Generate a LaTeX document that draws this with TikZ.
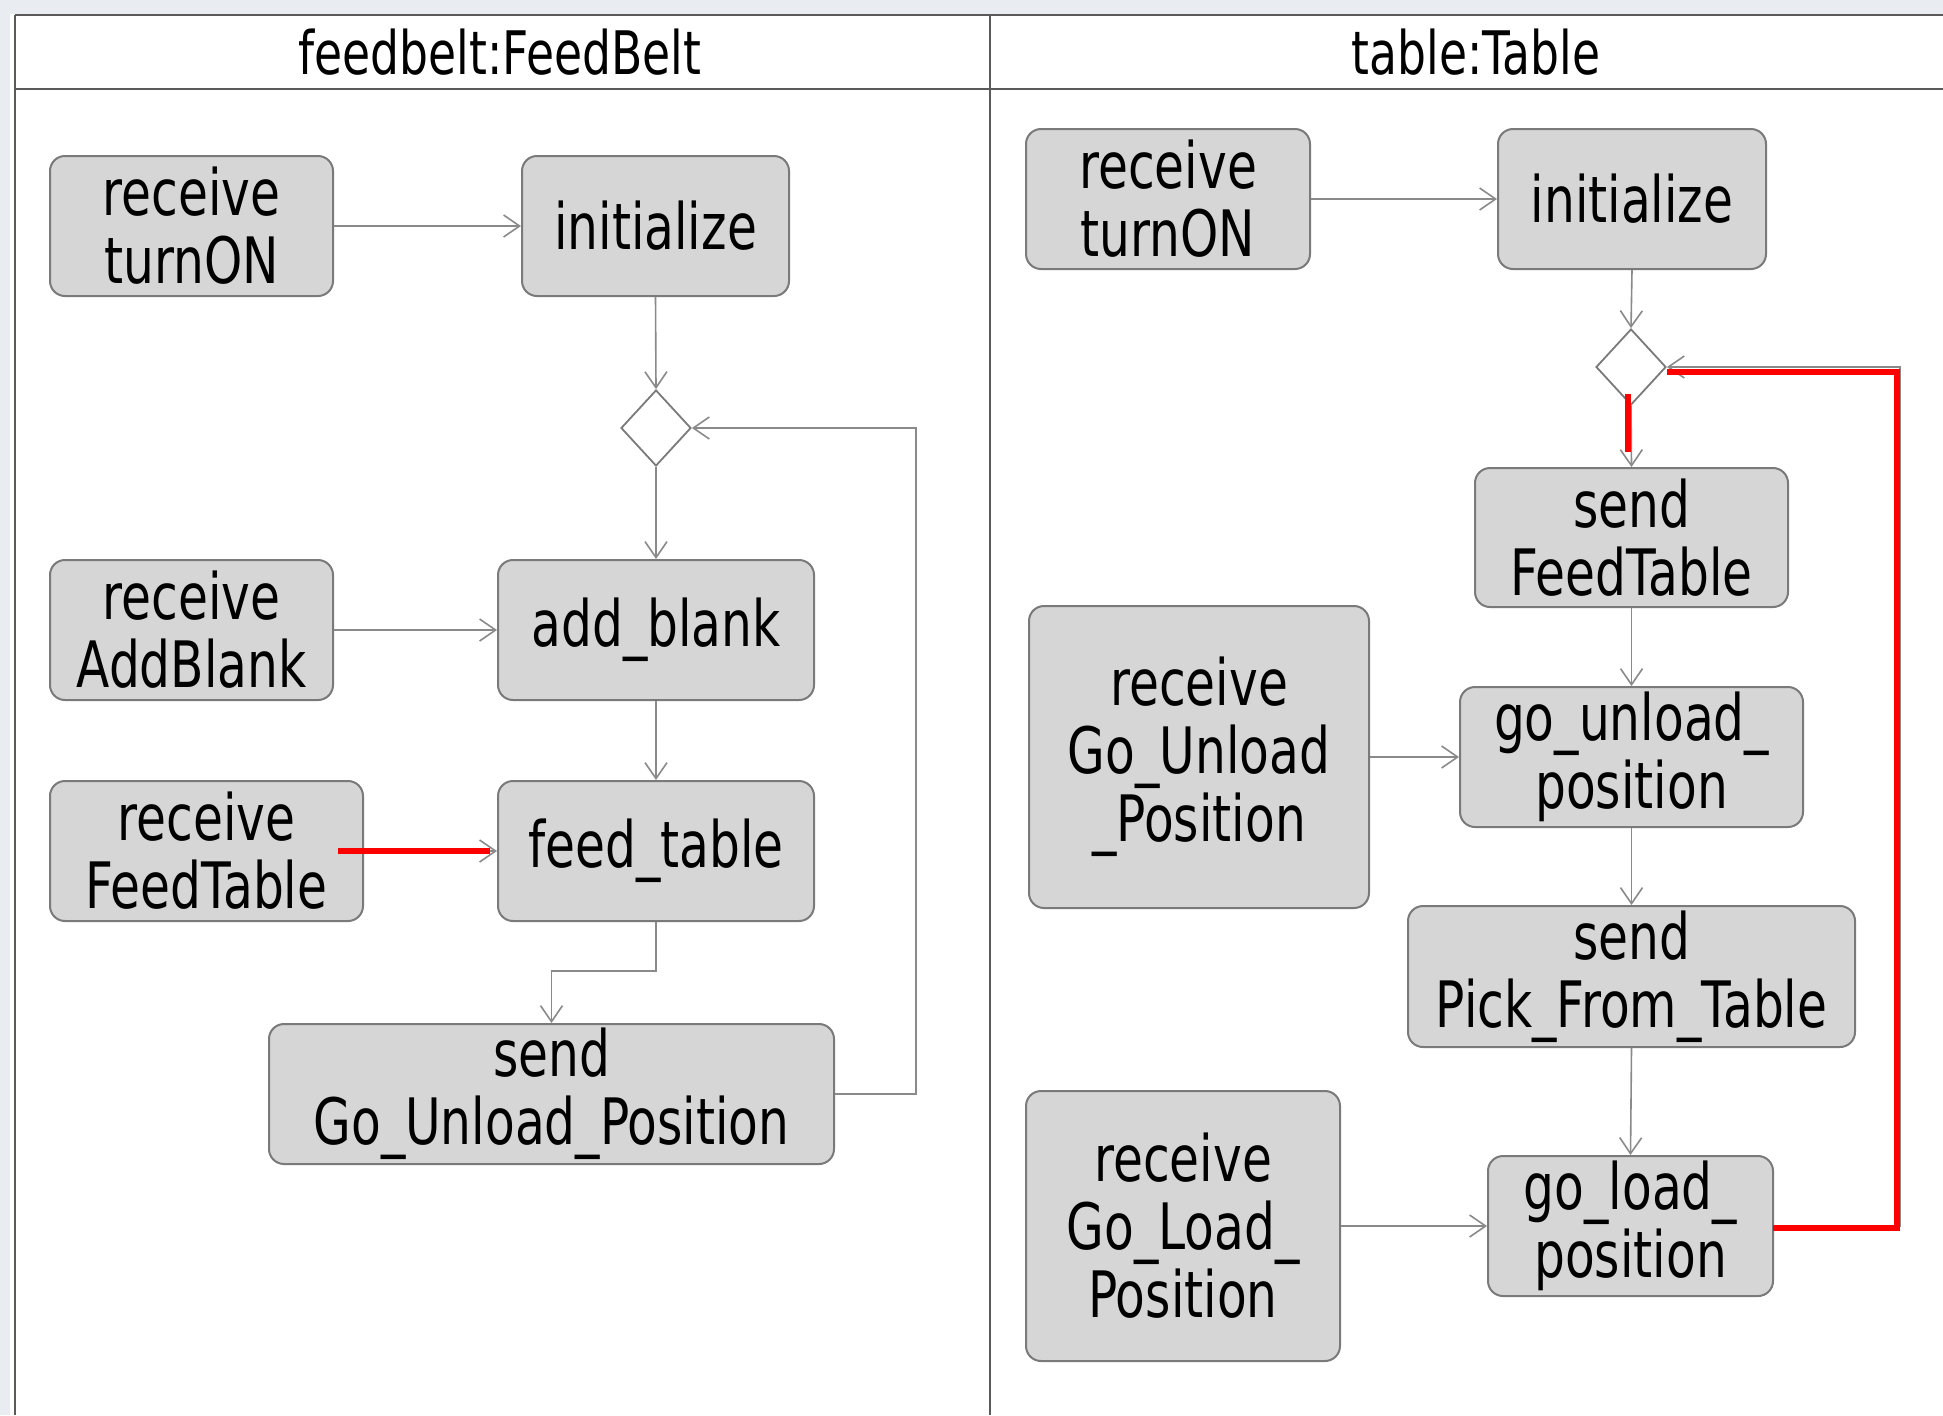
\documentclass[tikz,border=0pt]{standalone}
\usepackage{fontspec}
\setmainfont{DejaVu Sans}[FakeStretch=0.76]
\usetikzlibrary{arrows.meta,shapes.geometric}
\definecolor{boxfill}{HTML}{D6D6D6}
\definecolor{boxline}{HTML}{7A7A7A}
\definecolor{conn}{HTML}{8A8A8A}
\definecolor{lane}{HTML}{5A5A5A}
\definecolor{strip}{HTML}{E9ECF0}
\definecolor{hl}{HTML}{FF0000}
\begin{document}
\begin{tikzpicture}[x=0.5pt,y=-0.5pt,
  act/.style={draw=boxline, line width=1pt, fill=boxfill, rounded corners=7.5pt,
    align=center, inner sep=0pt, font=\fontsize{32pt}{34pt}\selectfont},
  dec/.style={draw=boxline, line width=0.9pt, fill=white, diamond, inner sep=0pt,
    minimum width=35pt, minimum height=38pt},
  flow/.style={draw=conn, line width=0.8pt, -{Straight Barb[length=8pt,width=11pt]}},
  hilite/.style={draw=hl, line width=2.6pt},
  lanehead/.style={font=\fontsize{30pt}{32pt}\selectfont, inner sep=0pt}
]
\useasboundingbox (0,0) rectangle (1943,1415);
\fill[white] (0,0) rectangle (1943,1415);
\fill[strip] (0,0) rectangle (1943,14);
\fill[strip] (0,0) rectangle (10,1415);
% swimlanes
\draw[lane, line width=1.3pt] (15,15) -- (1943,15);
\draw[lane, line width=1.3pt] (15,89) -- (1943,89);
\draw[lane, line width=0.8pt] (15,15) -- (15,1415);
\draw[lane, line width=0.8pt] (990,15) -- (990,1415);
\node[lanehead] (h1) at (500,52) {feedbelt:FeedBelt};
\node[lanehead] (h2) at (1476,52) {table:Table};

% left lane
\node[act, minimum width=141.5pt, minimum height=70pt] (rt1) at (191.5,226) {receive\\turnON};
\node[act, minimum width=133.5pt, minimum height=70pt] (init1) at (655.5,226) {initialize};
\node[dec] (dia1) at (656,428) {};
\node[act, minimum width=141.5pt, minimum height=70pt] (rab) at (191.5,630) {receive\\AddBlank};
\node[act, minimum width=158pt, minimum height=70pt] (addb) at (656,630) {add\_blank};
\node[act, minimum width=156.5pt, minimum height=70pt] (rft) at (206.5,851) {receive\\FeedTable};
\node[act, minimum width=158pt, minimum height=70pt] (feedt) at (656,851) {feed\_table};
\node[act, minimum width=282.5pt, minimum height=70pt] (sgu) at (551.5,1094) {send\\Go\_Unload\_Position};
\coordinate (loop1) at (916,1094);

\draw[flow] (rt1.east) -- (init1.west);
\draw[flow] (init1.south) -- (dia1.north);
\draw[flow] (dia1.south) -- (addb.north);
\draw[flow] (rab.east) -- (addb.west);
\draw[flow] (addb.south) -- (feedt.north);
\draw[flow] (rft.east) -- (feedt.west);
\draw[flow] (feedt.south) -- ++(0,49) -| (sgu.north);
\draw[flow] (sgu.east) -- (loop1) |- (dia1.east);
\draw[hilite] (338,851) -- (490,851);

% right lane
\node[act, minimum width=142pt, minimum height=70pt] (rt2) at (1168,199) {receive\\turnON};
\node[act, minimum width=134pt, minimum height=70pt] (init2) at (1632,199) {initialize};
\node[dec] (dia2) at (1631,367) {};
\node[act, minimum width=156.5pt, minimum height=69.5pt] (sft) at (1631.5,537.5) {send\\FeedTable};
\node[act, minimum width=170pt, minimum height=151pt] (rgu) at (1199,757) {receive\\Go\_Unload\\\_Position};
\node[act, minimum width=171.5pt, minimum height=70pt] (gup) at (1631.5,757) {go\_unload\_\\position};
\node[act, minimum width=223.5pt, minimum height=70.5pt] (spt) at (1631.5,976.5) {send\\Pick\_From\_Table};
\node[act, minimum width=157pt, minimum height=135pt] (rgl) at (1183,1226) {receive\\Go\_Load\_\\Position};
\node[act, minimum width=142.5pt, minimum height=70pt] (glp) at (1630.5,1226) {go\_load\_\\position};
\coordinate (loop2) at (1900,1226);

\draw[flow] (rt2.east) -- (init2.west);
\draw[flow] (init2.south) -- (dia2.north);
\draw[flow] (dia2.south) -- (sft.north);
\draw[flow] (sft.south) -- (gup.north);
\draw[flow] (rgu.east) -- (gup.west);
\draw[flow] (gup.south) -- (spt.north);
\draw[flow] (spt.south) -- (glp.north);
\draw[flow] (rgl.east) -- (glp.west);
\draw[flow] (glp.east) -- (loop2) |- (dia2.east);
\draw[hilite] (1773,1228) -- (1897,1228) -- (1897,372) -- (1667,372);
\draw[hilite] (1628,394) -- (1628,452);
\end{tikzpicture}
\end{document}
